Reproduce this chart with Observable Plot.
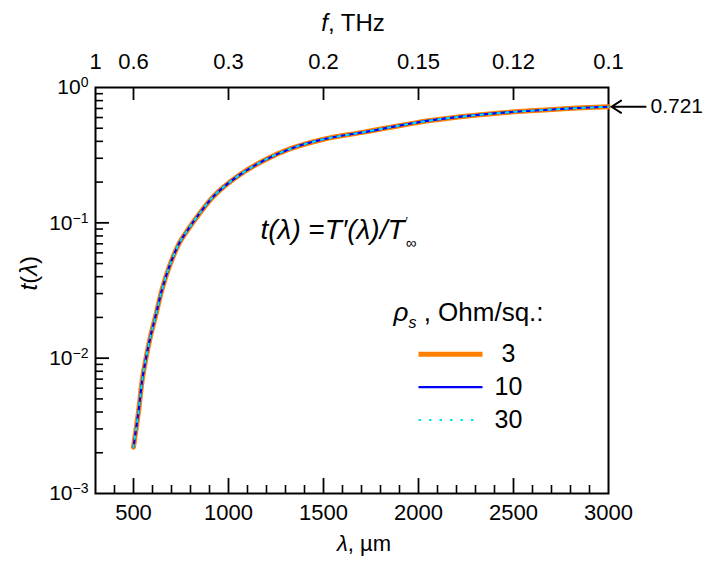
<!DOCTYPE html>
<html>
<head>
<meta charset="utf-8">
<script src="https://cdn.jsdelivr.net/npm/d3@7"></script>
<script src="https://cdn.jsdelivr.net/npm/@observablehq/plot@0.6"></script>
<style>
  html, body { margin: 0; padding: 0; background: #fff; }
  svg { font-family: "Liberation Sans", Arial, sans-serif; }
</style>
</head>
<body>
<div id="chart"></div>
<script>
// Wavelength (µm) and normalized transmission t(λ) for three sheet resistances
const lambda = [500, 528, 546, 567, 589, 616, 651, 686, 739, 791, 835, 923, 1046, 1186, 1326, 1502, 1712, 2063, 2414, 2765, 3000];
const t3  = [0.0022, 0.0042, 0.0069, 0.0102, 0.0144, 0.0204, 0.0325, 0.0465, 0.070, 0.091, 0.111, 0.158, 0.220, 0.289, 0.353, 0.415, 0.468, 0.571, 0.646, 0.696, 0.721];
const t10 = [0.0022, 0.0042, 0.0069, 0.0102, 0.0144, 0.0204, 0.0325, 0.0465, 0.070, 0.091, 0.111, 0.158, 0.220, 0.289, 0.353, 0.415, 0.468, 0.571, 0.646, 0.696, 0.721];
const t30 = [0.0022, 0.0042, 0.0069, 0.0102, 0.0144, 0.0204, 0.0325, 0.0465, 0.070, 0.091, 0.111, 0.158, 0.220, 0.289, 0.353, 0.415, 0.468, 0.571, 0.646, 0.696, 0.721];
const seriesNames = ["3", "10", "30"];
const seriesColors = ["#ff7f00", "#0000ff", "#00e5ee"];

// Axis ticks
const xTickLabels = [500, 1000, 1500, 2000, 2500, 3000];
const xMajorTicks = [500, 1000, 1500, 2000, 2500];
const xMinorTicks = d3.range(400, 3000, 100).filter(d => d % 500 !== 0);
const fTickLabels = [1, 0.6, 0.3, 0.2, 0.15, 0.12, 0.1];   // THz, λ = 300 / f
const topTicks = [500, 1000, 1500, 2000, 2500];
const yTickExps = [0, -1, -2, -3];
const yMajorTicks = [0.1, 0.01];
const yMinorTicks = [0.001, 0.01, 0.1].flatMap(p => [2,3,4,5,6,7,8,9].map(k => +(k * p).toPrecision(3)));
const endValue = 0.721;

const rows = (ts, name) => lambda.map((l, i) => ({lambda: l, t: ts[i], name}));
const d3s = rows(t3, "3"), d10 = rows(t10, "10"), d30 = rows(t30, "30");

// Legend entries (data-space positions of the legend sample lines)
const legend = [
  {name: "3",  x1: 2000, x2: 2337, y: 0.01071},
  {name: "10", x1: 2000, x2: 2337, y: 0.00611},
  {name: "30", x1: 2000, x2: 2310, y: 0.00349}
];

const W = 705, H = 561, mL = 95, mR = 97, mT = 87, mB = 68;
const fh = H - mT - mB, fw = W - mL - mR;

const chart = Plot.plot({
  width: W, height: H,
  marginLeft: mL, marginRight: mR, marginTop: mT, marginBottom: mB,
  x: {type: "linear", domain: [300, 3000], axis: null},
  y: {type: "log", domain: [1e-3, 1], axis: null},
  style: {fontFamily: "'Liberation Sans', Arial, sans-serif", color: "#000", background: "#fff"},
  marks: [
    // ticks (inward)
    Plot.tickX(xMinorTicks, {x: d => d, insetTop: fh - 8, stroke: "#000", strokeWidth: 1.6}),
    Plot.tickX(xMajorTicks, {x: d => d, insetTop: fh - 15, stroke: "#000", strokeWidth: 1.8}),
    Plot.tickX(topTicks, {x: d => d, insetBottom: fh - 13, stroke: "#000", strokeWidth: 1.8}),
    Plot.tickY(yMinorTicks, {y: d => d, insetRight: fw - 8, stroke: "#000", strokeWidth: 1.6}),
    Plot.tickY(yMajorTicks, {y: d => d, insetRight: fw - 14, stroke: "#000", strokeWidth: 1.8}),
    Plot.frame({stroke: "#000", strokeWidth: 2}),

    // curves
    Plot.line(d3s, {x: "lambda", y: "t", stroke: seriesColors[0], strokeWidth: 5, curve: "catmull-rom"}),
    Plot.line(d10, {x: "lambda", y: "t", stroke: seriesColors[1], strokeWidth: 2.2, curve: "catmull-rom"}),
    Plot.line(d30, {x: "lambda", y: "t", stroke: seriesColors[2], strokeWidth: 2, strokeDasharray: "2.5,6", curve: "catmull-rom"}),

    // tick labels
    Plot.text(xTickLabels, {x: d => d, frameAnchor: "bottom", lineAnchor: "middle", dy: 19, text: d => String(d), fontSize: 22}),
    Plot.text(fTickLabels, {x: d => 300 / d, frameAnchor: "top", lineAnchor: "middle", dy: -26, text: d => String(d), fontSize: 22}),
    Plot.text(yTickExps, {y: d => Math.pow(10, d), frameAnchor: "left", lineAnchor: "middle", dx: -7, textAnchor: "end", fontSize: 21,
      text: d => "10^" + d, ariaDescription: "ylab"}),

    // axis titles
    Plot.text(["f, THz"], {frameAnchor: "top", lineAnchor: "middle", dy: -64, dx: 1, text: d => d, fontSize: 24, ariaDescription: "ftitle"}),
    Plot.text(["λ, µm"], {frameAnchor: "bottom", lineAnchor: "middle", dy: 50, dx: 12, text: d => d, fontSize: 22, ariaDescription: "xtitle"}),
    Plot.text(["t(λ)"], {frameAnchor: "left", lineAnchor: "middle", dx: -66, rotate: -90, text: d => d, fontSize: 24, ariaDescription: "ytitle"}),

    // formula annotation
    Plot.text(["t(λ) =T′(λ)/T"], {frameAnchor: "top-left", lineAnchor: "middle", dx: 165, dy: 143, textAnchor: "start", text: d => d, fontSize: 28, ariaDescription: "formula"}),

    // end-value arrow annotation
    Plot.arrow([endValue], {x1: 3195, x2: 3016, y1: d => d, y2: d => d, stroke: "#000", strokeWidth: 2, headLength: 15, headAngle: 65}),
    Plot.text([endValue], {x: 3000, y: d => d, dx: 42, textAnchor: "start", text: d => String(d), fontSize: 21}),

    // legend
    Plot.text(["ρs , Ohm/sq.:"], {frameAnchor: "top-left", lineAnchor: "middle", dx: 298, dy: 225, textAnchor: "start", text: d => d, fontSize: 26, ariaDescription: "legtitle"}),
    Plot.link([legend[0]], {x1: "x1", x2: "x2", y1: "y", y2: "y", stroke: seriesColors[0], strokeWidth: 5}),
    Plot.link([legend[1]], {x1: "x1", x2: "x2", y1: "y", y2: "y", stroke: seriesColors[1], strokeWidth: 2.2}),
    Plot.link([legend[2]], {x1: "x1", x2: "x2", y1: "y", y2: "y", stroke: seriesColors[2], strokeWidth: 2, strokeDasharray: "2.5,8"}),
    Plot.text(legend, {x: 2458, y: "y", text: "name", fontSize: 25, dx: 3})
  ]
});

// Rich text (italics, super/subscripts)
const sel = d3.select(chart);
const rich = (key, fn) => sel.selectAll('g[aria-description="' + key + '"] text').each(function() { this.innerHTML = fn(this.textContent); });
rich("ylab", s => {
  const e = s.split("^")[1];
  return '10<tspan dy="-0.5em" font-size="14">' + (e.startsWith("-") ? "−" + e.slice(1) : e) + '</tspan>';
});
rich("ftitle", () => '<tspan font-style="italic">f</tspan>, THz');
rich("xtitle", () => '<tspan font-style="italic">λ</tspan>, µm');
rich("ytitle", () => '<tspan font-style="italic">t</tspan>(<tspan font-style="italic">λ</tspan>)');
rich("formula", () => '<tspan font-style="italic">t(λ)</tspan> =<tspan font-style="italic">T′(λ)/T</tspan>' +
    '<tspan font-size="12" dy="-13" dx="1">′</tspan><tspan font-size="15" dy="22" dx="-2">∞</tspan>');
rich("legtitle", () => '<tspan font-style="italic">ρ</tspan><tspan font-style="italic" font-size="16" dy="7">s</tspan><tspan dy="-7"> , Ohm/sq.:</tspan>');

document.getElementById("chart").appendChild(chart);
</script>
</body>
</html>
